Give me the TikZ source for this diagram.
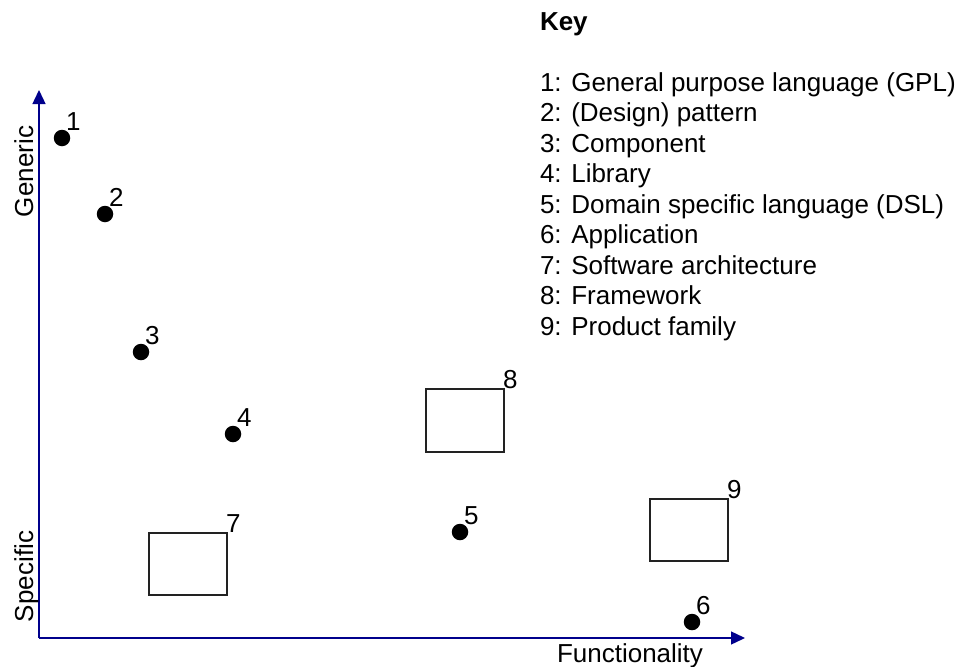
\documentclass[tikz,border=0pt]{standalone}
\usepackage{fontspec}
\setmainfont{Liberation Sans}
\usetikzlibrary{arrows.meta}
\definecolor{axisblue}{RGB}{0,0,140}
\definecolor{boxline}{RGB}{34,34,34}
\begin{document}
\begin{tikzpicture}[x=1pt,y=-1pt,
  every node/.style={inner sep=0pt,outer sep=0pt,font=\fontsize{26}{31}\selectfont},
  dot/.style={circle,fill=black,minimum size=16.5pt},
  tag/.style={anchor=base west},
  sq/.style={draw=boxline,line width=1.4pt},
  axis/.style={draw=axisblue,line width=1.4pt,-{Triangle[length=14pt,width=13pt]}},
  keyline/.style={anchor=base west}]
\useasboundingbox (0,0) rectangle (962,667);

% axes
\coordinate (origin) at (39,638);
\coordinate (ytip) at (39,90);
\coordinate (xtip) at (745,638);
\draw[axis] (origin) -- (ytip);
\draw[axis] (origin) -- (xtip);
\node[rotate=90,anchor=base west] (generic) at (33,217) {Generic};
\node[rotate=90,anchor=base west] (specific) at (33,622) {Specific};
\node[anchor=base west] (func) at (557,662) {Functionality};

% points
\node[dot] (p1) at (62,138) {};
\node[dot] (p2) at (105,214) {};
\node[dot] (p3) at (141,352) {};
\node[dot] (p4) at (233,434) {};
\node[dot] (p5) at (460,532) {};
\node[dot] (p6) at (692,622) {};
\foreach \p/\t in {p1/1,p2/2,p3/3,p4/4,p5/5,p6/6}
  \node[tag] (l\p) at ([xshift=4pt,yshift=8pt]\p.center) {\t};

% boxes
\node[sq,minimum width=78pt,minimum height=62pt,anchor=north west] (b7) at (149,533) {};
\node[sq,minimum width=78pt,minimum height=63pt,anchor=north west] (b8) at (426,389) {};
\node[sq,minimum width=78pt,minimum height=62pt,anchor=north west] (b9) at (650,499) {};
\foreach \b/\t in {b7/7,b8/8,b9/9}
  \node[tag] (l\b) at ([xshift=-1pt,yshift=1pt]\b.north east) {\t};

% key
\node[keyline,font=\fontsize{26}{31}\selectfont\bfseries] (key) at (540,30) {Key};
\node[keyline] (k1) at (540,91) {1: General purpose language (GPL)};
\node[keyline] (k2) at (540,121.5) {2: (Design) pattern};
\node[keyline] (k3) at (540,152) {3: Component};
\node[keyline] (k4) at (540,182.5) {4: Library};
\node[keyline] (k5) at (540,213) {5: Domain specific language (DSL)};
\node[keyline] (k6) at (540,243.5) {6: Application};
\node[keyline] (k7) at (540,274) {7: Software architecture};
\node[keyline] (k8) at (540,304.5) {8: Framework};
\node[keyline] (k9) at (540,335) {9: Product family};
\end{tikzpicture}
\end{document}
